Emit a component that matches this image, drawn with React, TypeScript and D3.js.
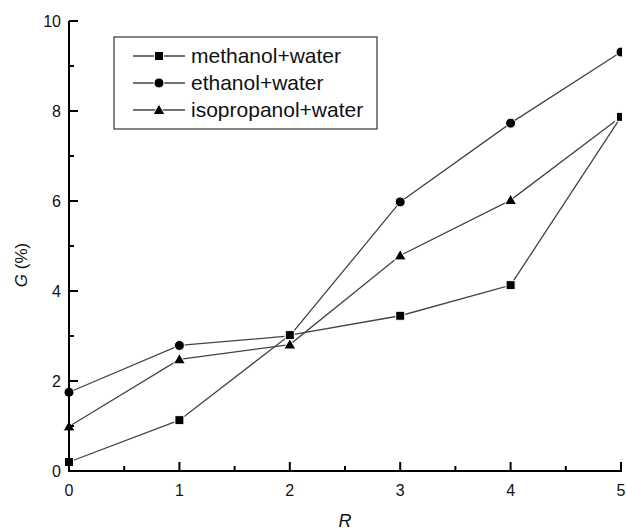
import React from "react";
import * as d3 from "d3";

const rValues = [0, 1, 2, 3, 4, 5];
const methanol = [0.2, 1.13, 3.02, 3.45, 4.13, 7.87];
const ethanol = [1.75, 2.79, 3.0, 5.98, 7.73, 9.31];
const isopropanol = [0.99, 2.48, 2.81, 4.79, 6.02, 7.87];
const seriesNames = ["methanol+water", "ethanol+water", "isopropanol+water"];
const seriesShapes = ["square", "circle", "triangle"];
const xTicks = [0, 1, 2, 3, 4, 5];
const yTicks = [0, 2, 4, 6, 8, 10];

const W = 626;
const H = 530;
const x = d3.scaleLinear().domain([0, 5]).range([69, 621]);
const y = d3.scaleLinear().domain([0, 10]).range([471, 21]);

function Marker({ shape, cx, cy }: { shape: string; cx: number; cy: number }) {
  if (shape === "square") {
    return <rect x={cx - 4.5} y={cy - 4.5} width={9} height={9} fill="#000" stroke="#fff" strokeWidth={1} />;
  }
  if (shape === "circle") {
    return <circle cx={cx} cy={cy} r={5} fill="#000" stroke="#fff" strokeWidth={1} />;
  }
  const p = d3.symbol().type(d3.symbolTriangle).size(62)();
  return <path d={p as string} transform={`translate(${cx},${cy + 1})`} fill="#000" stroke="#fff" strokeWidth={1} />;
}

export default function App() {
  const all = [methanol, ethanol, isopropanol];
  const markerOrder = [1, 2, 0];
  const line = d3
    .line<number>()
    .x((_, i) => x(rValues[i]))
    .y((d) => y(d));
  const minorX = d3.range(0.5, 5, 1);
  const minorY = d3.range(1, 10, 2);
  const font = "Liberation Sans, Arial, sans-serif";
  return (
    <svg
      width={W}
      height={H}
      style={{ position: "absolute", left: 0, top: 0, background: "#fff" }}
      fontFamily={font}
    >
      <defs>
        <clipPath id="plotclip">
          <rect x={0} y={0} width={622} height={H} />
        </clipPath>
      </defs>
      <g clipPath="url(#plotclip)">
        {all.map((s, k) => (
          <path key={k} d={line(s) as string} fill="none" stroke="#444" strokeWidth={1.3} />
        ))}
        {markerOrder.map((k) =>
          all[k].map((v, i) => (
            <Marker key={`${k}-${i}`} shape={seriesShapes[k]} cx={x(rValues[i])} cy={y(v)} />
          ))
        )}
      </g>
      <g stroke="#000" strokeWidth={2}>
        <line x1={x(0)} x2={x(0)} y1={y(10)} y2={y(0) + 1} />
        <line x1={x(0) - 1} x2={x(5) + 1} y1={y(0)} y2={y(0)} />
        {xTicks.map((t) => (
          <line key={`xt${t}`} x1={x(t)} x2={x(t)} y1={y(0)} y2={y(0) - 9} />
        ))}
        {minorX.map((t) => (
          <line key={`xm${t}`} x1={x(t)} x2={x(t)} y1={y(0)} y2={y(0) - 5} />
        ))}
        {yTicks.map((t) => (
          <line key={`yt${t}`} x1={x(0)} x2={x(0) + 9} y1={y(t)} y2={y(t)} />
        ))}
        {minorY.map((t) => (
          <line key={`ym${t}`} x1={x(0)} x2={x(0) + 5} y1={y(t)} y2={y(t)} />
        ))}
      </g>
      {xTicks.map((t) => (
        <text key={`xl${t}`} x={x(t)} y={496} textAnchor="middle" fontSize={16} fill="#111">
          {t}
        </text>
      ))}
      {yTicks.map((t) => (
        <text key={`yl${t}`} x={61} y={y(t) + 6} textAnchor="end" fontSize={16} fill="#111">
          {t}
        </text>
      ))}
      <text x={345} y={527} textAnchor="middle" fontSize={18} fontStyle="italic" fill="#111">
        R
      </text>
      <text transform="translate(27,265) rotate(-90)" textAnchor="middle" fontSize={17} fill="#111">
        <tspan fontStyle="italic">G</tspan> (%)
      </text>
      <rect x={114} y={37} width={263} height={92} fill="#fff" stroke="#444" strokeWidth={1.3} />
      {seriesNames.map((n, k) => {
        const ly = 56 + k * 27;
        return (
          <g key={n}>
            <line x1={133} x2={185} y1={ly} y2={ly} stroke="#444" strokeWidth={1.3} />
            <Marker shape={seriesShapes[k]} cx={159} cy={ly} />
            <text x={191} y={ly + 7} fontSize={21} fill="#111">
              {n}
            </text>
          </g>
        );
      })}
    </svg>
  );
}
